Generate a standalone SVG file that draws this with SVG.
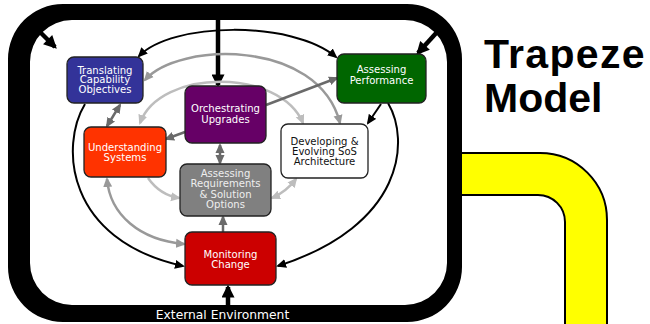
<svg xmlns="http://www.w3.org/2000/svg" width="650" height="324" viewBox="0 0 650 324">
  <style>
    .node rect { stroke: #222; stroke-width: 1.3; }
    .node text { font-family: "DejaVu Sans Condensed", "DejaVu Sans", sans-serif; font-size: 11.2px; text-anchor: middle; fill: #fff; }
    .node.light text { fill: #111; }
    .node.grey text { fill: #eee; }
    .c { fill: none; }
    .blk { stroke: #000; stroke-width: 2; }
    .thick { stroke: #000; stroke-width: 4.5; }
    .dk { stroke: #6a6a6a; stroke-width: 2.5; }
    .md { stroke: #999; stroke-width: 2.5; }
    .lt { stroke: #bdbdbd; stroke-width: 2.5; }
    .title { font-family: "Liberation Sans", Arial, sans-serif; font-weight: bold; font-size: 41px; fill: #000; }
    .env { font-family: "DejaVu Sans", sans-serif; font-size: 12.3px; fill: #fff; text-anchor: middle; }
  </style>
  <defs>
    <marker id="hBlk" viewBox="0 0 10 10" refX="8" refY="5" markerUnits="userSpaceOnUse" markerWidth="10" markerHeight="10" orient="auto-start-reverse">
      <path d="M0,0.5 L10,5 L0,9.5 Z" fill="#000"/>
    </marker>
    <marker id="hBig" viewBox="0 0 10 10" refX="8" refY="5" markerUnits="userSpaceOnUse" markerWidth="14" markerHeight="13" orient="auto-start-reverse">
      <path d="M0,0 L10,5 L0,10 Z" fill="#000"/>
    </marker>
    <marker id="hDk" viewBox="0 0 10 10" refX="8" refY="5" markerUnits="userSpaceOnUse" markerWidth="10" markerHeight="10" orient="auto-start-reverse">
      <path d="M0,0.5 L10,5 L0,9.5 Z" fill="#6a6a6a"/>
    </marker>
    <marker id="hMd" viewBox="0 0 10 10" refX="8" refY="5" markerUnits="userSpaceOnUse" markerWidth="10" markerHeight="10" orient="auto-start-reverse">
      <path d="M0,0.5 L10,5 L0,9.5 Z" fill="#999"/>
    </marker>
    <marker id="hLt" viewBox="0 0 10 10" refX="8" refY="5" markerUnits="userSpaceOnUse" markerWidth="10" markerHeight="10" orient="auto-start-reverse">
      <path d="M0,0.5 L10,5 L0,9.5 Z" fill="#bdbdbd"/>
    </marker>
  </defs>

  <rect width="650" height="324" fill="#fff"/>

  <!-- yellow pipe behind the frame -->
  <path id="pipe" d="M452,153 H540 A67,67 0 0 1 607,220 V326 H565 V222 A27,27 0 0 0 538,195 H452 Z" fill="#ffff00" stroke="#000" stroke-width="2"/>

  <!-- thick rounded frame (external environment boundary) -->
  <path id="frame" fill="#000" fill-rule="evenodd"
        d="M8,59 A55,55 0 0 1 63,4 H407 A55,55 0 0 1 462,59 V267 A55,55 0 0 1 407,322 H63 A55,55 0 0 1 8,267 Z
           M30,62 A42,42 0 0 1 72,20 H405 A42,42 0 0 1 447,62 V263 A42,42 0 0 1 405,305 H72 A42,42 0 0 1 30,263 Z"/>
  <text class="env" x="222.5" y="319">External Environment</text>

  <g id="connectors">
    <!-- outer black loop -->
    <path class="c blk" d="M139,56 C172,22 292,20 336,57" marker-start="url(#hBlk)" marker-end="url(#hBlk)"/>
    <path class="c blk" d="M85,104 C60,145 65,240 183,266" marker-end="url(#hBlk)"/>
    <path class="c blk" d="M388,103 C410,140 405,225 278,266" marker-end="url(#hBlk)"/>
    <path class="c blk" d="M381,104 L368,123" marker-end="url(#hBlk)"/>
    <!-- inputs from the environment -->
    <path class="c thick" d="M218,20 L218,85" marker-end="url(#hBig)"/>
    <path class="c thick" d="M228,305 L228,287" marker-end="url(#hBig)"/>
    <path class="c thick" d="M37,29 L55,47" marker-end="url(#hBig)"/>
    <path class="c thick" d="M438,31 L418,53" marker-end="url(#hBig)"/>
    <!-- middle grey ring -->
    <path class="c md" d="M145,80 C178,42 318,38 340,123" marker-start="url(#hMd)" marker-end="url(#hMd)"/>
    <path class="c md" d="M107,179 C110,215 140,240 184,244" marker-start="url(#hMd)" marker-end="url(#hMd)"/>
    <!-- inner light ring -->
    <path class="c lt" d="M140,123 C160,68 280,68 303,123" marker-start="url(#hLt)" marker-end="url(#hLt)"/>
    <path class="c lt" d="M148,178 Q160,195 179,198" marker-end="url(#hLt)"/>
    <path class="c lt" d="M272,198 Q286,192 296,179" marker-start="url(#hLt)" marker-end="url(#hLt)"/>
    <!-- direct dark grey links -->
    <path class="c dk" d="M266,105 L337,78" marker-end="url(#hDk)"/>
    <path class="c dk" d="M185,132 L166,139" marker-end="url(#hDk)"/>
    <path class="c dk" d="M220,145 L220,163" marker-start="url(#hDk)" marker-end="url(#hDk)"/>
    <path class="c dk" d="M120,105 L107,126" marker-start="url(#hDk)" marker-end="url(#hDk)"/>
    <path class="c dk" d="M223,232 L223,217" marker-end="url(#hDk)"/>
  </g>

  <g id="translating" class="node">
    <rect x="67" y="57" width="76" height="46" rx="7" fill="#333399"/>
    <text x="105" y="73.5">Translating</text>
    <text x="105" y="83.3">Capability</text>
    <text x="105" y="93.1">Objectives</text>
  </g>
  <g id="orchestrating" class="node">
    <rect x="185" y="86" width="81" height="57" rx="7" fill="#660066"/>
    <text x="225.5" y="112.3">Orchestrating</text>
    <text x="225.5" y="122.8">Upgrades</text>
  </g>
  <g id="assessing-performance" class="node">
    <rect x="337" y="54" width="89" height="49" rx="7" fill="#006600"/>
    <text x="381.5" y="73.3">Assessing</text>
    <text x="381.5" y="84.3">Performance</text>
  </g>
  <g id="understanding" class="node">
    <rect x="84" y="127" width="82" height="50" rx="7" fill="#ff3300"/>
    <text x="125" y="150.5">Understanding</text>
    <text x="125" y="161">Systems</text>
  </g>
  <g id="developing" class="node light">
    <rect x="281" y="124" width="87" height="54" rx="7" fill="#fff" stroke="#333"/>
    <text x="324.5" y="144.5">Developing &amp;</text>
    <text x="324.5" y="154.5">Evolving SoS</text>
    <text x="324.5" y="164.5">Architecture</text>
  </g>
  <g id="assessing-requirements" class="node grey">
    <rect x="180" y="164" width="91" height="52" rx="7" fill="#808080"/>
    <text x="225.5" y="176.6">Assessing</text>
    <text x="225.5" y="187.1">Requirements</text>
    <text x="225.5" y="197.6">&amp; Solution</text>
    <text x="225.5" y="208.1">Options</text>
  </g>
  <g id="monitoring" class="node">
    <rect x="185" y="232" width="91" height="53" rx="7" fill="#cc0000"/>
    <text x="230.5" y="257.5">Monitoring</text>
    <text x="230.5" y="268.3">Change</text>
  </g>

  <text class="title" x="484" y="68" letter-spacing="1.3">Trapeze</text>
  <text class="title" x="484" y="112">Model</text>
</svg>
